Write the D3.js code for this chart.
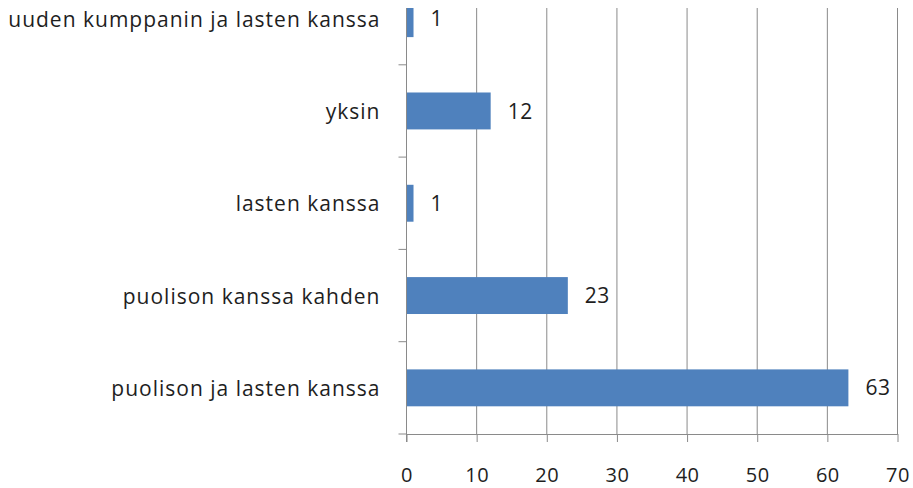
<!DOCTYPE html>
<html>
<head>
<meta charset="utf-8">
<script src="https://cdn.jsdelivr.net/npm/d3@7"></script>
<style>
  body { margin: 0; background: #fff; }
  text { font-family: "Open Sans", sans-serif; fill: #1e1e1e; }
</style>
</head>
<body>
<div id="chart-area"></div>
<script>
const categories = ["uuden kumppanin ja lasten kanssa", "yksin", "lasten kanssa", "puolison kanssa kahden", "puolison ja lasten kanssa"];
const values = [1, 12, 1, 23, 63];
const xTicks = [0, 10, 20, 30, 40, 50, 60, 70];

const WIDTH = 913, HEIGHT = 488;
const MARGIN = { LEFT: 406.5, RIGHT: 15.5, TOP: -27.5, BOTTOM: 54 };
const innerW = WIDTH - MARGIN.LEFT - MARGIN.RIGHT;
const innerH = HEIGHT - MARGIN.TOP - MARGIN.BOTTOM;

const svg = d3.select("#chart-area")
  .append("svg")
    .attr("width", WIDTH)
    .attr("height", HEIGHT);

// the picture is cut off just above the first bar
svg.append("defs").append("clipPath").attr("id", "visible")
  .append("rect").attr("x", 0).attr("y", 8).attr("width", WIDTH).attr("height", HEIGHT - 8);

const g = svg.append("g")
  .attr("clip-path", "url(#visible)")
  .append("g")
  .attr("transform", `translate(${MARGIN.LEFT}, ${MARGIN.TOP})`);

const x = d3.scaleLinear().domain([0, 70]).range([0, innerW]);
const y = d3.scaleBand().domain(categories).range([0, innerH]).paddingInner(0.6).paddingOuter(0.3);
const yBand = d3.scaleBand().domain(categories).range([0, innerH]);

// vertical gridlines
g.append("g").selectAll("line")
  .data(xTicks.filter(d => d > 0))
  .enter().append("line")
    .attr("x1", d => x(d)).attr("x2", d => x(d))
    .attr("y1", 0).attr("y2", innerH)
    .attr("stroke", "#8a8a8a").attr("stroke-width", 1);

// bars
g.selectAll("rect.bar")
  .data(values)
  .enter().append("rect")
    .attr("class", "bar")
    .attr("x", x(0))
    .attr("y", (d, i) => y(categories[i]))
    .attr("width", d => x(d) - x(0))
    .attr("height", y.bandwidth())
    .attr("fill", "#4f81bd");

// value labels
g.selectAll("text.value")
  .data(values)
  .enter().append("text")
    .attr("class", "value")
    .attr("x", d => x(d) + 17)
    .attr("y", (d, i) => y(categories[i]) + y.bandwidth() / 2)
    .attr("dy", "0.36em")
    .attr("font-size", "21px")
    .attr("letter-spacing", "0.5px")
    .text(d => d);

// x axis
const xAxis = g.append("g")
  .attr("transform", `translate(0, ${innerH})`)
  .call(d3.axisBottom(x).tickValues(xTicks).tickSize(8).tickSizeOuter(0).tickPadding(26));
xAxis.select(".domain").attr("stroke", "#8a8a8a");
xAxis.selectAll(".tick line").attr("stroke", "#8a8a8a");
xAxis.selectAll("text")
  .attr("font-size", "20px")
  .attr("font-family", "'Open Sans', sans-serif")
  .attr("letter-spacing", "0.5px")
  .attr("fill", "#1e1e1e");

// y axis: ticks at band boundaries
const yAxis = g.append("g");
yAxis.append("line")
  .attr("x1", 0).attr("x2", 0).attr("y1", 0).attr("y2", innerH + 8)
  .attr("stroke", "#8a8a8a");
yAxis.selectAll("line.ytick")
  .data(categories)
  .enter().append("line")
    .attr("class", "ytick")
    .attr("x1", -8).attr("x2", 0)
    .attr("y1", d => yBand(d) + yBand.bandwidth())
    .attr("y2", d => yBand(d) + yBand.bandwidth())
    .attr("stroke", "#8a8a8a");
yAxis.selectAll("text.cat")
  .data(categories)
  .enter().append("text")
    .attr("class", "cat")
    .attr("x", -26)
    .attr("y", d => y(d) + y.bandwidth() / 2)
    .attr("dy", "0.38em")
    .attr("text-anchor", "end")
    .attr("font-size", "21px")
    .attr("letter-spacing", "1px")
    .text(d => d);
</script>
</body>
</html>
